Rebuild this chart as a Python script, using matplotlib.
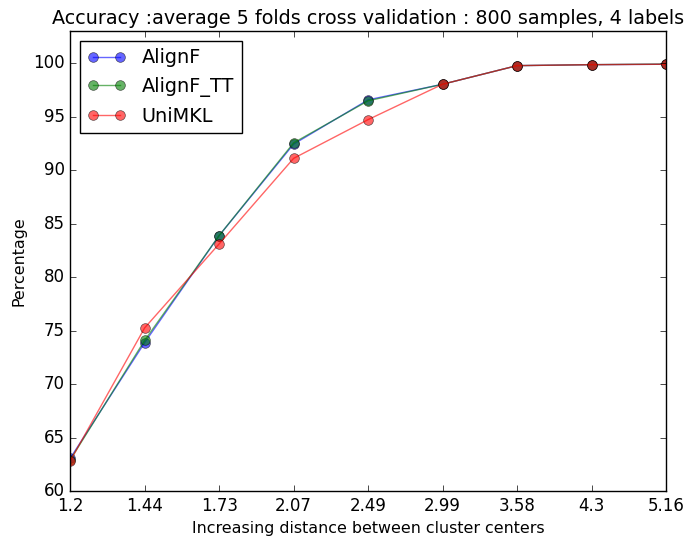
import numpy as np
from matplotlib import pyplot as plt

plt.style.use('classic')

distances = ["1.2", "1.44", "1.73", "2.07", "2.49", "2.99", "3.58", "4.3", "5.16"]
alignf = [63.05, 73.87, 83.88, 92.43, 96.57, 98.03, 99.77, 99.86, 99.9]
alignf_tt = [62.9, 74.08, 83.88, 92.55, 96.48, 98.03, 99.77, 99.86, 99.92]
unimkl = [62.8, 75.25, 83.1, 91.1, 94.72, 98.03, 99.77, 99.86, 99.9]


fig = plt.figure(figsize=(6.88, 5.36), dpi=100)
ax = fig.add_axes([0.102, 0.084, 0.866, 0.858])

x = np.arange(len(distances))
ax.plot(x, alignf, 'o-', color='b', alpha=0.6, markersize=7, label="AlignF")
ax.plot(x, alignf_tt, 'o-', color='g', alpha=0.6, markersize=7, label="AlignF_TT")
ax.plot(x, unimkl, 'o-', color='r', alpha=0.6, markersize=7, label="UniMKL")

ax.set_xticks(x)
ax.set_xticklabels(distances)
ax.set_xlim(0, len(distances) - 1)
ax.set_ylim(60, 103)

ax.set_title("Accuracy :average 5 folds cross validation : 800 samples, 4 labels", fontsize=13.8)
ax.set_xlabel("Increasing distance between cluster centers", fontsize=11.4)
ax.set_ylabel("Percentage", fontsize=11.4)
ax.legend(loc='upper left', fontsize=13.9)

fig.savefig("out.png", dpi=100)
